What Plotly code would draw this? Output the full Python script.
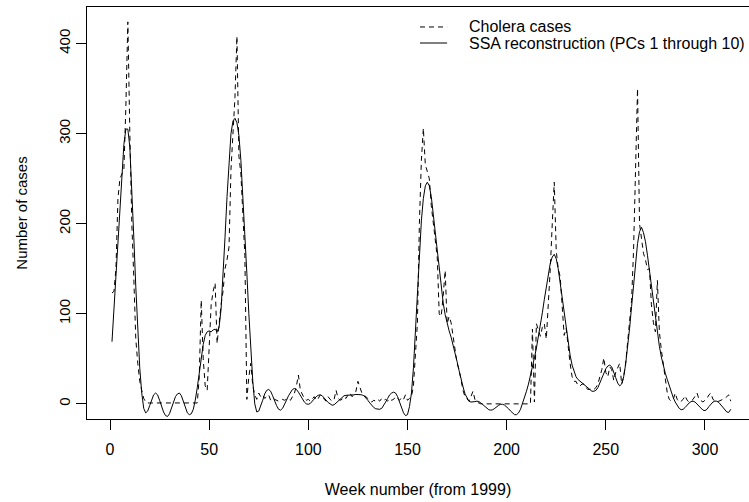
import plotly.graph_objects as go

weeks = list(range(1, 314))

cholera_cases = [
    123, 125, 150, 228, 250, 255, 260, 330, 424, 300,
    200, 140, 72, 45, 25, 15, 6, 2, 1, 1,
    1, 1, 1, 1, 1, 1, 1, 1, 1, 1,
    1, 1, 1, 1, 1, 1, 1, 1, 1, 1,
    1, 1, 1, 1, 30, 115, 50, 20, 15, 70,
    110, 125, 134, 67, 90, 110, 125, 150, 160, 174,
    260, 300, 340, 408, 275, 255, 200, 165, 5, 30,
    45, 20, 10, 5, 12, 8, 10, 6, 8, 10,
    4, 6, 5, 4, 3, 4, 5, 4, 5, 6,
    4, 8, 12, 20, 32, 15, 10, 6, 4, 5,
    3, 6, 8, 4, 6, 10, 7, 5, 3, 8,
    5, 3, 5, 15, 6, 4, 5, 8, 6, 10,
    12, 8, 10, 14, 25, 18, 12, 10, 8, 6,
    5, 2, 4, 3, 5, 3, 6, 4, 5, 3,
    6, 4, 5, 8, 6, 4, 7, 5, 10, 4,
    6, 8, 20, 50, 90, 200, 270, 306, 265, 258,
    250, 220, 200, 182, 163, 100, 97, 120, 148, 89,
    97, 90, 75, 60, 45, 38, 25, 15, 8, 5,
    3, 8, 14, 5, 2, 1, 0, 0, 0, 0,
    0, 0, 0, 0, 0, 0, 0, 0, 0, 0,
    0, 0, 0, 0, 0, 0, 0, 0, 0, 0,
    0, 0, 83, 2, 89, 81, 75, 85, 89, 72,
    110, 150, 200, 246, 170, 150, 141, 110, 76, 84,
    60, 45, 30, 25, 25, 20, 20, 22, 22, 18,
    16, 16, 17, 16, 18, 22, 30, 38, 51, 35,
    30, 41, 38, 26, 35, 40, 45, 22, 30, 45,
    67, 90, 115, 171, 280, 350, 200, 180, 167, 160,
    149, 150, 110, 90, 80, 137, 80, 60, 42, 25,
    12, 5, 3, 5, 12, 5, 2, 3, 5, 9,
    4, 2, 3, 5, 8, 12, 5, 3, 2, 4,
    6, 10, 12, 5, 3, 2, 3, 4, 5, 6,
    8, 10, 3,
]

ssa_reconstruction = [
    69, 105, 140, 185, 225, 258, 288, 305, 305, 285,
    240, 185, 130, 80, 40, 12, -5, -10, -8, -2,
    5, 10, 12, 10, 4, -3, -9, -13, -14, -11,
    -5, 2, 8, 11, 12, 9, 3, -4, -10, -12,
    -11, -6, 4, 18, 35, 52, 66, 76, 80, 81,
    80, 82, 83, 80, 85, 105, 140, 185, 230, 272,
    300, 314, 317, 312, 298, 270, 232, 190, 145, 100,
    60, 25, 0, -9, -8, -3, 4, 11, 15, 16,
    14, 9, 3, -2, -6, -7, -5, -1, 4, 9,
    13, 16, 17, 16, 13, 9, 5, 2, 0, -0.5,
    0.5, 3, 6, 8, 9.5, 10, 9, 7, 4, 1.5,
    -0.5, -1.5, -1, 1, 3.5, 6, 8, 9, 9.5, 9.5,
    9.5, 10, 10, 10.5, 10.5, 10, 10, 9, 7, 4,
    1, -2, -4, -5.5, -6, -6, -5, -2, 2, 6,
    10, 12, 13, 12, 8, 2, -5, -10, -13, -12,
    -3, 12, 40, 80, 125, 168, 203, 228, 242, 246,
    242, 230, 210, 188, 165, 145, 127, 112, 99, 89,
    81, 74, 66, 57, 47, 37, 27, 19, 11, 6,
    3, 2, 2, 2.5, 3, 2.5, 1, -1, -3, -5,
    -6.5, -7, -6.5, -5, -3, -1.5, -0.5, -0.5, -1.5, -3,
    -5.5, -8, -10, -12, -12, -10, -6, 0, 7, 14,
    22, 31, 41, 51, 62, 74, 87, 101, 116, 131,
    145, 156, 163, 166, 161, 150, 134, 117, 100, 84,
    68, 54, 43, 35, 30, 27, 25, 24, 22, 20,
    18, 16, 14, 14, 15, 18, 23, 29, 35, 39,
    42, 43, 41, 36, 29, 23, 20, 22, 30, 44,
    62, 84, 108, 134, 158, 178, 191, 196, 190, 180,
    165, 148, 130, 112, 95, 79, 64, 52, 42, 34,
    27, 20, 13, 7, 2, -2, -5, -6.5, -6, -4,
    -1, 1, 2.5, 3, 2, 0, -3, -5, -7, -7.5,
    -6, -3, 0, 2, 3, 3, 1.5, -1, -4, -7,
    -9, -9.5, -6,
]

x_ticks = [0, 50, 100, 150, 200, 250, 300]
y_ticks = [0, 100, 200, 300, 400]
legend_labels = ["Cholera cases", "SSA reconstruction (PCs 1 through 10)"]

FONT = "Liberation Sans, Arial, Helvetica, sans-serif"
DASH = "5px,4px"

fig = go.Figure()
fig.add_trace(go.Scatter(
    x=weeks, y=cholera_cases, mode="lines", name=legend_labels[0],
    line=dict(color="black", width=1, dash=DASH), showlegend=False,
))
fig.add_trace(go.Scatter(
    x=weeks, y=ssa_reconstruction, mode="lines", name=legend_labels[1],
    line=dict(color="black", width=1), showlegend=False,
))

# legend drawn manually (R-style, no box)
leg_rows = [0.9515, 0.9126]
leg_dash = [DASH, "solid"]
for lbl, yy, dsh in zip(legend_labels, leg_rows, leg_dash):
    fig.add_shape(type="line", xref="paper", yref="paper",
                  x0=0.503, x1=0.544, y0=yy, y1=yy,
                  line=dict(color="black", width=1, dash=dsh))
    fig.add_annotation(xref="paper", yref="paper", x=0.574, y=yy,
                       text=lbl, showarrow=False, xanchor="left", yanchor="middle",
                       font=dict(family=FONT, size=16, color="black"))

fig.update_layout(
    width=749, height=502,
    margin=dict(l=87, r=0, t=7, b=83),
    paper_bgcolor="white", plot_bgcolor="white",
    font=dict(family=FONT, color="black"),
    showlegend=False,
)
fig.update_xaxes(
    range=[-11.6, 322.2], tickvals=x_ticks, ticktext=[str(v) for v in x_ticks],
    showgrid=False, zeroline=False,
    showline=True, linecolor="black", linewidth=1, mirror=True,
    ticks="outside", ticklen=10, tickcolor="black", tickwidth=1,
    ticklabelstandoff=6,
    tickfont=dict(family=FONT, size=16, color="black"),
    title=dict(text="Week number (from 1999)", font=dict(family=FONT, size=16, color="black"), standoff=26),
)
fig.update_yaxes(
    range=[-16.8, 440.5], tickvals=y_ticks, ticktext=[str(v) for v in y_ticks],
    showgrid=False, zeroline=False,
    showline=True, linecolor="black", linewidth=1, mirror=False,
    ticks="outside", ticklen=10, tickcolor="black", tickwidth=1, tickangle=-90,
    tickfont=dict(family=FONT, size=15, color="black"),
    title=dict(text="Number of cases", font=dict(family=FONT, size=15, color="black"), standoff=24),
)

fig.write_html("out.html")
